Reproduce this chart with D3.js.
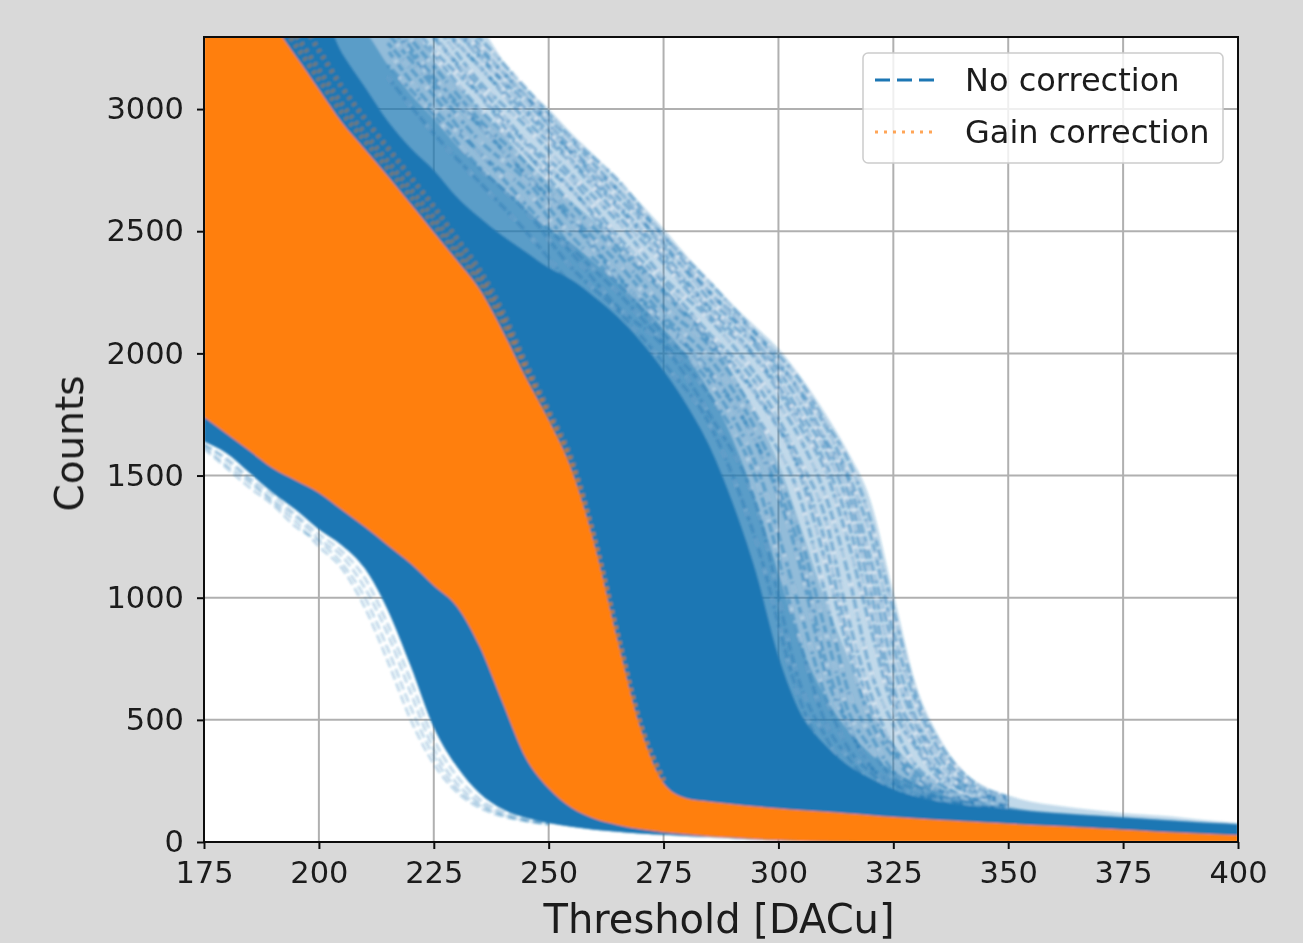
<!DOCTYPE html>
<html>
<head>
<meta charset="utf-8">
<title>Threshold scan</title>
<script src="https://cdn.jsdelivr.net/npm/d3@7"></script>
<style>
    html, body { margin: 0; padding: 0; background: #d9d9d9; }
    #chart { width: 1303px; height: 943px; }
    text { font-family: "DejaVu Sans", sans-serif; fill: #1a1a1a; }
</style>
</head>
<body>
<div id="chart"></div>
<script>
// --- data ---
const xTicks = [175, 200, 225, 250, 275, 300, 325, 350, 375, 400];
const yTicks = [0, 500, 1000, 1500, 2000, 2500, 3000];
const legendLabels = ["No correction", "Gain correction"];

// common threshold grid for the envelopes of the two bundles of curves
const thresholds = [175, 180, 185, 190, 195, 200, 205, 210, 215, 220, 225, 230, 235, 240, 245, 250, 255, 260, 265, 270, 275, 280, 285, 290, 295, 300, 305, 310, 315, 320, 325, 330, 335, 340, 345, 350, 355, 360, 365, 370, 375, 380, 385, 390, 395, 400];

const gainLow = [1740, 1670, 1600, 1530, 1480, 1430, 1360, 1290, 1215, 1140, 1050, 965, 800, 570, 345, 220, 140, 95, 70, 52, 40, 32, 24, 18, 12, 8, 4, 2, 1, 0, 0, 0, 0, 0, 0, 0, 0, 0, 0, 0, 0, 0, 0, 0, 0, 0];
const gainHigh = [3400, 3400, 3400, 3340, 3215, 3080, 2945, 2835, 2725, 2610, 2495, 2380, 2260, 2090, 1900, 1725, 1520, 1210, 820, 460, 240, 178, 165, 155, 145, 137, 130, 124, 117, 110, 102, 96, 90, 85, 80, 75, 70, 65, 60, 55, 50, 45, 40, 36, 32, 28];
const rawLow = [1640, 1590, 1510, 1430, 1360, 1280, 1215, 1120, 950, 720, 470, 310, 200, 135, 100, 78, 62, 50, 42, 35, 30, 25, 20, 15, 10, 6, 3, 1, 0, 0, 0, 0, 0, 0, 0, 0, 0, 0, 0, 0, 0, 0, 0, 0, 0, 0];
const rawDense = [3400, 3400, 3400, 3400, 3400, 3400, 3230, 3090, 2950, 2840, 2750, 2640, 2555, 2480, 2415, 2350, 2300, 2230, 2150, 2050, 1930, 1790, 1620, 1390, 1110, 760, 520, 400, 315, 260, 215, 185, 165, 150, 142, 135, 125, 118, 112, 106, 100, 94, 88, 82, 77, 72];
const rawInner = [3400, 3400, 3400, 3400, 3400, 3400, 3400, 3320, 3180, 3060, 2960, 2850, 2760, 2680, 2590, 2510, 2450, 2370, 2290, 2200, 2100, 1990, 1840, 1650, 1400, 1100, 800, 600, 460, 360, 290, 240, 200, 172, 152, 140, 128, 120, 114, 107, 101, 95, 89, 83, 78, 73];
const rawMid = [3400, 3400, 3400, 3400, 3400, 3400, 3400, 3400, 3400, 3350, 3200, 3100, 3000, 2900, 2790, 2700, 2620, 2540, 2450, 2360, 2270, 2170, 2060, 1920, 1750, 1550, 1280, 1000, 760, 540, 400, 300, 240, 195, 165, 145, 130, 122, 115, 108, 102, 96, 90, 84, 79, 74];
const rawOuter = [3400, 3400, 3400, 3400, 3400, 3400, 3400, 3400, 3400, 3400, 3400, 3400, 3340, 3200, 3090, 3000, 2900, 2810, 2715, 2615, 2510, 2400, 2300, 2200, 2110, 2020, 1900, 1760, 1600, 1400, 1020, 640, 430, 295, 225, 190, 165, 150, 138, 128, 118, 112, 105, 95, 86, 78];

// single pale curves on the right hand side of the bundle
const fringeThresholds = [215, 225, 235, 245, 255, 265, 275, 285, 295, 305, 310, 315, 320, 325, 330, 335, 340, 350];
const fringeCurves = [
    [3700, 3480, 3290, 3085, 2880, 2710, 2480, 2290, 2085, 1880, 1725, 1570, 1320, 950, 600, 405, 285, 185],
    [3720, 3520, 3260, 3050, 2870, 2670, 2480, 2250, 2080, 1840, 1710, 1510, 1260, 860, 570, 375, 265, 180],
    [3650, 3420, 3240, 3055, 2820, 2670, 2435, 2250, 2045, 1830, 1655, 1490, 1160, 800, 500, 350, 245, 176],
    [3630, 3440, 3210, 3030, 2840, 2640, 2450, 2220, 2050, 1790, 1640, 1440, 1100, 720, 480, 320, 240, 170],
    [3600, 3400, 3220, 3000, 2820, 2610, 2410, 2190, 2030, 1750, 1610, 1390, 1030, 630, 440, 290, 230, 165],
    [3590, 3380, 3170, 2985, 2790, 2600, 2390, 2180, 1990, 1720, 1560, 1320, 950, 590, 400, 280, 215, 162],
    [3580, 3360, 3175, 2955, 2780, 2565, 2370, 2155, 1980, 1690, 1530, 1240, 880, 545, 385, 260, 215, 160],
    [3550, 3350, 3110, 2930, 2730, 2540, 2310, 2140, 1915, 1640, 1430, 1110, 705, 480, 310, 240, 190, 152],
    [3520, 3290, 3090, 2870, 2710, 2480, 2290, 2080, 1880, 1550, 1340, 930, 610, 390, 285, 210, 188, 150],
    [3490, 3300, 3060, 2860, 2670, 2460, 2260, 2060, 1840, 1510, 1240, 850, 555, 370, 265, 212, 180, 146],
    [3480, 3240, 3055, 2820, 2670, 2435, 2250, 2045, 1830, 1490, 1160, 800, 500, 350, 245, 208, 172, 142],
    [3440, 3220, 3000, 2820, 2610, 2410, 2190, 2030, 1750, 1390, 1030, 630, 440, 290, 230, 185, 168, 138],
    [3400, 3175, 2955, 2780, 2565, 2370, 2155, 1980, 1690, 1240, 880, 545, 385, 260, 215, 178, 162, 135],
    [3380, 3130, 2935, 2735, 2550, 2320, 2120, 1930, 1640, 1170, 760, 490, 310, 240, 190, 172, 158, 133],
    [3360, 3110, 2930, 2730, 2540, 2310, 2140, 1915, 1640, 1110, 705, 480, 310, 240, 190, 178, 152, 132],
    [3310, 3090, 2870, 2710, 2480, 2290, 2080, 1880, 1550, 930, 610, 390, 285, 210, 188, 164, 152, 130],
    [3270, 3055, 2820, 2670, 2435, 2250, 2045, 1830, 1490, 800, 500, 350, 245, 208, 172, 162, 142, 128],
    [3240, 3000, 2820, 2610, 2410, 2190, 2030, 1750, 1390, 630, 440, 290, 230, 185, 168, 150, 142, 125],
    [3180, 2975, 2760, 2585, 2350, 2175, 1960, 1710, 1240, 565, 365, 275, 200, 188, 156, 150, 135, 122],
    [3130, 2900, 2700, 2500, 2280, 2090, 1870, 1560, 950, 400, 280, 215, 185, 165, 150, 140, 130, 118]
];
const dashOffsets = [0, 5, 2, 9, 4, 11, 7, 1, 6, 3, 10, 8, 0, 5, 2, 9, 4, 11, 7, 1];

// pale curves under the lower edge of the bundle
const lowThresholds = [175, 180, 185, 190, 195, 200, 205, 210, 215, 220, 225, 230, 235, 240, 245, 250];
const lowCurves = [
    [1620, 1540, 1470, 1390, 1310, 1210, 1120, 960, 740, 500, 320, 205, 140, 105, 85, 72],
    [1630, 1560, 1480, 1400, 1330, 1240, 1170, 1040, 850, 610, 380, 240, 160, 115, 90, 75],
    [1610, 1530, 1450, 1380, 1290, 1230, 1140, 1000, 790, 550, 350, 220, 150, 110, 88, 74],
    [1625, 1570, 1490, 1420, 1340, 1260, 1190, 1080, 890, 660, 420, 270, 175, 125, 95, 76]
];

// brownish edge where the orange dots overlap the blue
const gainEdges = [
    [3400, 3400, 3400, 3400, 3300, 3160, 3020, 2900, 2785, 2670, 2555, 2430, 2310, 2145, 1945, 1750, 1550, 1230, 840, 475, 250],
    [3400, 3400, 3400, 3400, 3380, 3240, 3090, 2960, 2840, 2720, 2600, 2470, 2340, 2170, 1960, 1765, 1565, 1240, 850, 480, 255],
    [3400, 3400, 3400, 3380, 3260, 3120, 2985, 2870, 2755, 2640, 2525, 2405, 2285, 2120, 1925, 1740, 1535, 1222, 832, 470, 245]
];

// --- canvas ---
const width = 1303, height = 943;
const margin = { top: 37, right: 65, bottom: 101, left: 204 };

const svg = d3.select("#chart").append("svg")
    .attr("width", width)
    .attr("height", height)
    .style("display", "block");

const defs = svg.append("defs");
defs.append("clipPath").attr("id", "plot-clip").append("rect")
    .attr("x", margin.left).attr("y", margin.top)
    .attr("width", width - margin.left - margin.right)
    .attr("height", height - margin.top - margin.bottom);
// the reference is a soft, upscaled screenshot
defs.append("filter").attr("id", "soft").append("feGaussianBlur").attr("stdDeviation", 1.1);
defs.append("filter").attr("id", "soft-text").append("feGaussianBlur").attr("stdDeviation", 0.45);

const x = d3.scaleLinear().domain([175, 400]).range([margin.left, width - margin.right]);
const y = d3.scaleLinear().domain([0, 3295]).range([height - margin.bottom, margin.top]);

svg.append("rect")
    .attr("x", margin.left).attr("y", margin.top)
    .attr("width", width - margin.left - margin.right)
    .attr("height", height - margin.top - margin.bottom)
    .attr("fill", "#fff");

// --- grid ---
const grid = svg.append("g").attr("stroke", "#b0b0b0").attr("stroke-width", 2);
grid.selectAll(".gx").data(xTicks.slice(1, -1)).join("line")
    .attr("x1", d => x(d)).attr("x2", d => x(d))
    .attr("y1", margin.top).attr("y2", height - margin.bottom);
grid.selectAll(".gy").data(yTicks.slice(1)).join("line")
    .attr("x1", margin.left).attr("x2", width - margin.right)
    .attr("y1", d => y(d)).attr("y2", d => y(d));

// --- curves ---
const plot = svg.append("g").attr("clip-path", "url(#plot-clip)")
    .append("g").attr("filter", "url(#soft)");

function band(low, high) {
    return d3.area()
        .x((d, i) => x(thresholds[i]))
        .y0((d, i) => y(low[i]))
        .y1((d, i) => y(high[i]))
        .curve(d3.curveMonotoneX)(thresholds);
}
function curve(xs, ys) {
    return d3.line()
        .x((d, i) => x(xs[i]))
        .y(d => y(d))
        .curve(d3.curveMonotoneX)(ys);
}

plot.append("path").attr("d", band(rawLow, rawOuter)).attr("fill", "#1f77b4").attr("opacity", 0.28);
plot.append("path").attr("d", band(rawLow, rawMid)).attr("fill", "#1f77b4").attr("opacity", 0.3);

plot.selectAll(".fringe").data(fringeCurves).join("path")
    .attr("d", d => curve(fringeThresholds, d))
    .attr("fill", "none")
    .attr("stroke", "#1f77b4")
    .attr("stroke-width", 3.5)
    .attr("stroke-opacity", 0.42)
    .attr("stroke-dasharray", "10 3")
    .attr("stroke-dashoffset", (d, i) => dashOffsets[i]);

// pale gaps between the curves, seen as white specks in the bundle
plot.selectAll(".gap").data(fringeCurves).join("path")
    .attr("d", d => curve(fringeThresholds, d))
    .attr("fill", "none")
    .attr("stroke", "#fff")
    .attr("stroke-width", 3)
    .attr("stroke-opacity", 0.35)
    .attr("stroke-dasharray", "8 23")
    .attr("stroke-dashoffset", (d, i) => dashOffsets[i] * 2);

plot.selectAll(".low").data(lowCurves).join("path")
    .attr("d", d => curve(lowThresholds, d))
    .attr("fill", "none")
    .attr("stroke", "#1f77b4")
    .attr("stroke-width", 2.5)
    .attr("stroke-opacity", 0.3)
    .attr("stroke-dasharray", "9 4");

plot.append("path").attr("d", band(rawLow, rawInner)).attr("fill", "#1f77b4").attr("opacity", 0.45);
plot.append("path").attr("d", band(rawLow, rawDense)).attr("fill", "#1f77b4");

plot.selectAll(".edge").data(gainEdges).join("path")
    .attr("d", d => curve(thresholds.slice(0, d.length), d))
    .attr("fill", "none")
    .attr("stroke", "#ff7f0e")
    .attr("stroke-width", 5)
    .attr("stroke-opacity", 0.38)
    .attr("stroke-dasharray", "3 5")
    .attr("stroke-dashoffset", (d, i) => i * 3);
plot.append("path").attr("d", band(gainLow, gainHigh)).attr("fill", "#ff7f0e");

// --- axes ---
const xAxis = d3.axisBottom(x).tickValues(xTicks).tickSize(7).tickPadding(13).tickFormat(d3.format("d"));
const yAxis = d3.axisLeft(y).tickValues(yTicks).tickSize(7).tickPadding(13).tickFormat(d3.format("d"));

const frame = svg.append("g").attr("filter", "url(#soft-text)");
const gx = frame.append("g").attr("transform", `translate(0,${height - margin.bottom})`).call(xAxis);
const gy = frame.append("g").attr("transform", `translate(${margin.left},0)`).call(yAxis);
[gx, gy].forEach(g => {
    g.select(".domain").remove();
    g.selectAll(".tick line").attr("stroke", "#111").attr("stroke-width", 2);
    g.selectAll("text").style("font-size", "30.5px").attr("fill", "#1a1a1a");
});
gx.selectAll("text").attr("y", 19);

frame.append("rect")
    .attr("x", margin.left).attr("y", margin.top)
    .attr("width", width - margin.left - margin.right)
    .attr("height", height - margin.top - margin.bottom)
    .attr("fill", "none")
    .attr("stroke", "#111")
    .attr("stroke-width", 2);

frame.append("text")
    .attr("x", (x(175) + x(400)) / 2 - 2)
    .attr("y", 933)
    .attr("text-anchor", "middle")
    .style("font-size", "40px")
    .text("Threshold [DACu]");

frame.append("text")
    .attr("transform", `translate(83,${(y(0) + y(3295)) / 2 + 4}) rotate(-90)`)
    .attr("text-anchor", "middle")
    .style("font-size", "39px")
    .text("Counts");

// --- legend ---
const legend = frame.append("g");
legend.append("rect")
    .attr("x", 863).attr("y", 53).attr("width", 360).attr("height", 110).attr("rx", 5)
    .attr("fill", "#fff").attr("fill-opacity", 0.8)
    .attr("stroke", "#ccc").attr("stroke-width", 1.5);
const legendStyles = [
    { color: "#1f77b4", dash: "15 7", w: 3, o: 1 },
    { color: "#ff7f0e", dash: "3 6", w: 3, o: 0.7 }
];
legendLabels.forEach((label, i) => {
    const ly = 80 + i * 52;
    legend.append("line")
        .attr("x1", 875).attr("x2", 935).attr("y1", ly).attr("y2", ly)
        .attr("stroke", legendStyles[i].color)
        .attr("stroke-width", legendStyles[i].w)
        .attr("stroke-opacity", legendStyles[i].o)
        .attr("stroke-dasharray", legendStyles[i].dash);
    legend.append("text")
        .attr("x", 965).attr("y", ly + 11)
        .style("font-size", "32px")
        .text(label);
});
</script>
</body>
</html>
